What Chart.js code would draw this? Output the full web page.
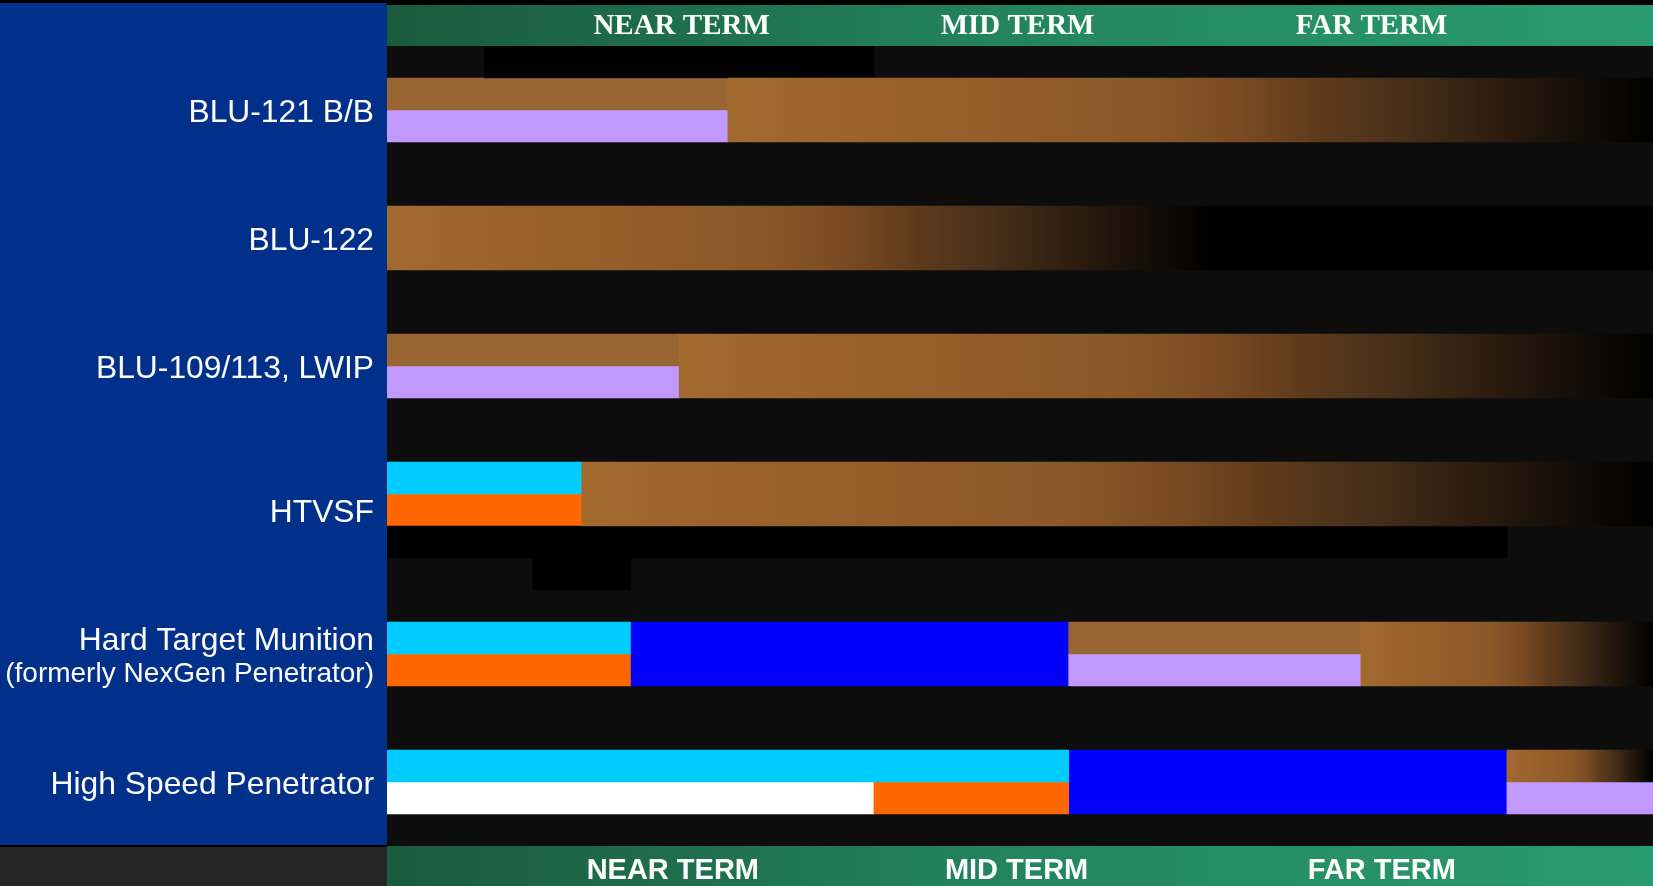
<!DOCTYPE html>
<html>
<head>
<meta charset="utf-8">
<title>Penetrator roadmap</title>
<script src="https://cdn.jsdelivr.net/npm/chart.js@4.4.1/dist/chart.umd.min.js"></script>
<style>
  html, body { margin: 0; padding: 0; background: #000; overflow: hidden; }
  #wrap { width: 1653px; height: 886px; position: relative; }
</style>
</head>
<body>
<div id="wrap"><canvas id="roadmap"></canvas></div>
<script>
// thin rows, two per weapon with spacers between
const slots = [
  'lead', 'BLU-121 B/B upper', 'BLU-121 B/B lower', 'gap 1a', 'gap 1b',
  'BLU-122 upper', 'BLU-122 lower', 'gap 2a', 'gap 2b',
  'BLU-109/113 upper', 'BLU-109/113 lower', 'gap 3a', 'gap 3b',
  'HTVSF upper', 'HTVSF lower', 'gap 4a', 'gap 4b', 'gap 4c',
  'HTM upper', 'HTM lower', 'gap 5a', 'gap 5b',
  'HSP upper', 'HSP lower', 'tail'
];

// weapon names on the left (position in rows)
const rowLabelText = ['BLU-121 B/B', 'BLU-122', 'BLU-109/113, LWIP', 'HTVSF',
  'Hard Target Munition', '(formerly NexGen Penetrator)', 'High Speed Penetrator'];
const rowLabelPos = [1.6, 5.6, 9.6, 14.1, 18.1, 19.13, 22.6];

// time periods
const termNames = ['NEAR TERM', 'MID TERM', 'FAR TERM'];
const topTermPos = [6.05, 12.95, 20.22];
const bottomTermPos = [5.87, 12.93, 20.43];
const timeMax = 26;

// segments: [row, start, end]
const fadeBars = [
  ['BLU-121 B/B upper', 7, 26], ['BLU-121 B/B lower', 7, 26],
  ['BLU-122 upper', 0, 17], ['BLU-122 lower', 0, 17],
  ['BLU-109/113 upper', 6, 26], ['BLU-109/113 lower', 6, 26],
  ['HTVSF upper', 4, 26], ['HTVSF lower', 4, 26],
  ['HTM upper', 20, 26], ['HTM lower', 20, 26],
  ['HSP upper', 23, 26]
];
const blackBars = [
  ['lead', 2, 10], ['BLU-122 upper', 17, 26], ['BLU-122 lower', 17, 26],
  ['gap 4a', 0, 23], ['gap 4b', 3, 5]
];
const brownBars = [['BLU-121 B/B upper', 0, 7], ['BLU-109/113 upper', 0, 6], ['HTM upper', 14, 20]];
const lavenderBars = [['BLU-121 B/B lower', 0, 7], ['BLU-109/113 lower', 0, 6], ['HTM lower', 14, 20], ['HSP lower', 23, 26]];
const cyanBars = [['HTVSF upper', 0, 4], ['HTM upper', 0, 5], ['HSP upper', 0, 14]];
const orangeBars = [['HTVSF lower', 0, 4], ['HTM lower', 0, 5], ['HSP lower', 10, 14]];
const blueBars = [['HTM upper', 5, 14], ['HTM lower', 5, 14], ['HSP upper', 14, 23], ['HSP lower', 14, 23]];
const whiteBars = [['HSP lower', 0, 10]];

const toPoints = list => list.map(([row, a, b]) => ({ y: row, x: [a, b] }));

function fadeFill(c) {
  const chart = c.chart;
  if (!chart.chartArea || !c.raw) return '#a1692f';
  const xs = chart.scales.x;
  const x0 = xs.getPixelForValue(c.raw.x[0]);
  const x1 = xs.getPixelForValue(c.raw.x[1]);
  const g = chart.ctx.createLinearGradient(x0, 0, x1, 0);
  g.addColorStop(0, '#a2692f');
  g.addColorStop(0.45, '#8a5727');
  g.addColorStop(0.55, '#7a4b23');
  g.addColorStop(0.64, '#5e3a1b');
  g.addColorStop(0.73, '#48301a');
  g.addColorStop(0.84, '#2a1b0e');
  g.addColorStop(1, '#000000');
  return g;
}

function bars(list, color) {
  return {
    data: toPoints(list),
    backgroundColor: color,
    borderWidth: 0,
    barPercentage: 1,
    categoryPercentage: 1
  };
}

const backdrop = {
  id: 'backdrop',
  beforeDraw(chart) {
    const { ctx, chartArea: a, width, height } = chart;
    ctx.save();
    ctx.fillStyle = '#000';
    ctx.fillRect(0, 0, width, height);
    ctx.fillStyle = '#00308a';
    ctx.fillRect(0, 3, a.left, a.bottom - 4);
    ctx.fillStyle = '#262626';
    ctx.fillRect(0, a.bottom + 1, a.left, height - a.bottom - 1);
    ctx.fillStyle = '#0d0d0d';
    ctx.fillRect(a.left, a.top, a.right - a.left, a.bottom - a.top);
    const band = (y, h) => {
      const g = ctx.createLinearGradient(a.left, 0, a.right, 0);
      g.addColorStop(0, '#1a5a3d');
      g.addColorStop(0.5, '#238560');
      g.addColorStop(1, '#2a9b6f');
      ctx.fillStyle = g;
      ctx.fillRect(a.left, y, a.right - a.left, h);
    };
    band(chart.scales.x2.top, a.top - chart.scales.x2.top);
    band(a.bottom, height - a.bottom);
    ctx.restore();
  }
};

const noGrid = { display: false, drawTicks: false };

new Chart(document.getElementById('roadmap'), {
  type: 'bar',
  data: {
    labels: slots,
    datasets: [
      bars(fadeBars, fadeFill),
      bars(blackBars, '#000000'),
      bars(brownBars, '#996633'),
      bars(lavenderBars, '#c299ff'),
      bars(cyanBars, '#00ccff'),
      bars(orangeBars, '#ff6600'),
      bars(blueBars, '#0000ff'),
      bars(whiteBars, '#ffffff')
    ]
  },
  options: {
    indexAxis: 'y',
    responsive: true,
    maintainAspectRatio: false,
    animation: false,
    layout: { padding: { top: 5 } },
    plugins: { legend: { display: false }, tooltip: { enabled: false } },
    scales: {
      y: { type: 'category', display: false, stacked: true },
      y2: {
        type: 'linear', position: 'left', reverse: true, offset: false,
        min: -0.5, max: slots.length - 0.5,
        grid: { display: false, drawTicks: false, offset: false }, border: { display: false },
        afterBuildTicks: s => { s.ticks = rowLabelPos.map(v => ({ value: v })); },
        afterFit: s => { s.width = 387; },
        ticks: {
          autoSkip: false, padding: 13, color: '#ffffff',
          font: c => ({ family: 'Liberation Sans, Arial, sans-serif', size: c.index === 5 ? 28 : 31.8 }),
          callback: (v, i) => rowLabelText[i]
        }
      },
      x: {
        type: 'linear', position: 'bottom', min: 0, max: timeMax,
        grid: noGrid, border: { display: false },
        afterBuildTicks: s => { s.ticks = bottomTermPos.map(v => ({ value: v })); },
        afterFit: s => { s.height = 40; },
        ticks: {
          autoSkip: false, padding: 8, color: '#ffffff', maxRotation: 0,
          font: { family: 'Liberation Sans, Arial, sans-serif', size: 29, weight: 'bold' },
          callback: (v, i) => termNames[i]
        }
      },
      x2: {
        type: 'linear', position: 'top', min: 0, max: timeMax,
        grid: noGrid, border: { display: false },
        afterBuildTicks: s => { s.ticks = topTermPos.map(v => ({ value: v })); },
        afterFit: s => { s.height = 41; },
        ticks: {
          autoSkip: false, padding: 2, color: '#ffffff', maxRotation: 0,
          font: { family: 'Liberation Serif, Times New Roman, serif', size: 29, weight: 'bold' },
          callback: (v, i) => termNames[i]
        }
      }
    }
  },
  plugins: [backdrop]
});
</script>
</body>
</html>
